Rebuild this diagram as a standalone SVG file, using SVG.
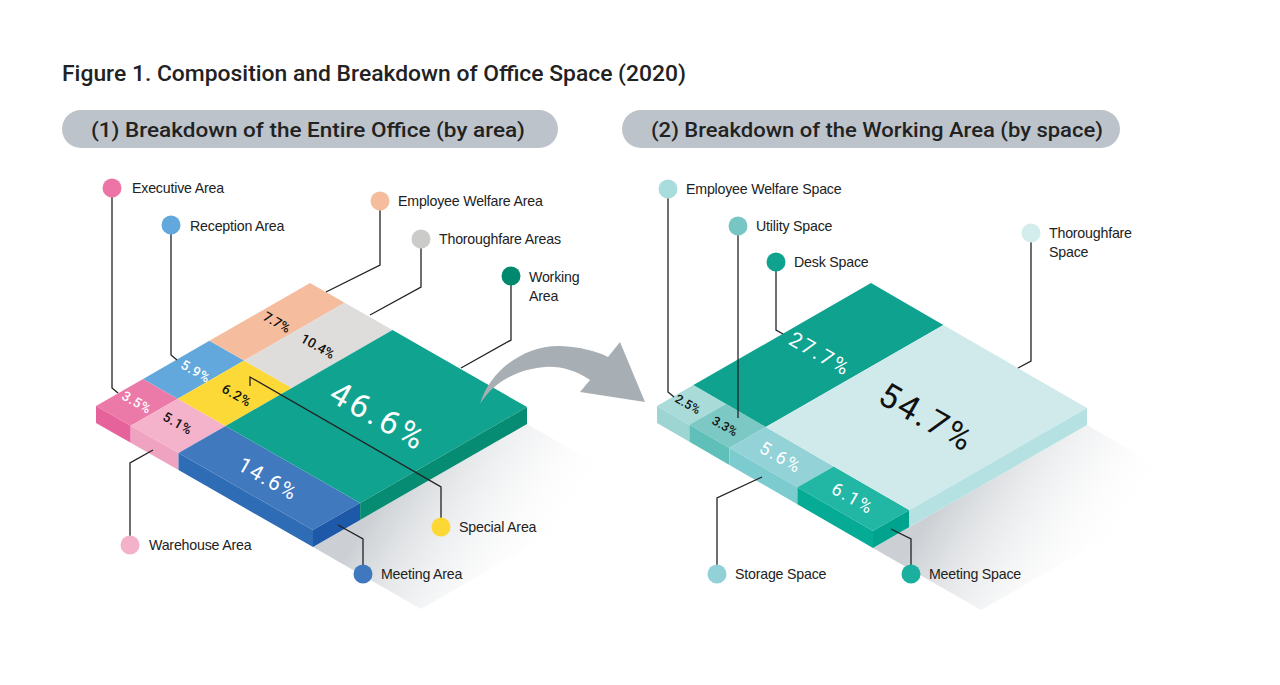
<svg xmlns="http://www.w3.org/2000/svg" width="1280" height="685" viewBox="0 0 1280 685">
<style>
.ttl{font-family:Roboto,"Liberation Sans",sans-serif;font-weight:500;fill:#222}
.lbl{font-family:"Liberation Sans",Arial,sans-serif;font-size:14.2px;fill:#222;letter-spacing:-0.2px}
.pct{font-family:Roboto,"Liberation Sans",sans-serif;text-anchor:middle;dominant-baseline:central}
.sm{font-size:13.5px;font-weight:500;letter-spacing:0.6px}
.ln{fill:none;stroke:#222;stroke-width:1.3}
</style>
<defs>
<linearGradient id="shL" gradientUnits="userSpaceOnUse" x1="400" y1="470" x2="550" y2="565">
<stop offset="0" stop-color="#ccd0d4"/><stop offset="1" stop-color="#ffffff" stop-opacity="0"/>
</linearGradient>
<linearGradient id="shR" gradientUnits="userSpaceOnUse" x1="960" y1="470" x2="1110" y2="565">
<stop offset="0" stop-color="#ccd0d4"/><stop offset="1" stop-color="#ffffff" stop-opacity="0"/>
</linearGradient>
</defs>
<rect width="1280" height="685" fill="#fff"/>
<g id="title">
<text class="ttl" x="62" y="81" font-size="22" textLength="624" lengthAdjust="spacingAndGlyphs">Figure 1. Composition and Breakdown of Office Space (2020)</text>
</g>
<g id="pill1">
<rect x="62" y="110" width="496" height="38" rx="19" fill="#bdc3ca"/>
<text class="ttl" x="91" y="137" font-size="21" textLength="434" lengthAdjust="spacingAndGlyphs">(1) Breakdown of the Entire Office (by area)</text>
</g>
<g id="pill2">
<rect x="622" y="110" width="498" height="38" rx="19" fill="#bdc3ca"/>
<text class="ttl" x="651" y="137" font-size="21" textLength="452" lengthAdjust="spacingAndGlyphs">(2) Breakdown of the Working Area (by space)</text>
</g>

<g id="blockLeft">
<polygon points="313,547 527,424 635,486 421,609" fill="url(#shL)"/>
<g id="executive-area-block">
<polygon points="96,406 143.1,378.9 177.8,398.7 130.7,425.8" fill="#ec7aa9"/>
<polygon points="96,406 130.7,425.8 130.7,442.8 96,423" fill="#e6629b"/>
</g>
<g id="reception-area-block"><polygon points="143.1,378.9 209.4,340.8 244.1,360.6 177.8,398.7" fill="#62a8dc"/></g>
<g id="employee-welfare-area-block"><polygon points="209.4,340.8 310,283 344.7,302.8 244.1,360.6" fill="#f5bd9e"/></g>
<g id="warehouse-area-block">
<polygon points="130.7,425.8 177.8,398.7 225.6,426 178.5,453.1" fill="#f5b2cb"/>
<polygon points="130.7,425.8 178.5,453.1 178.5,470.1 130.7,442.8" fill="#f0a3c1"/>
</g>
<g id="special-area-block"><polygon points="177.8,398.7 244.1,360.6 291.9,388 225.6,426" fill="#fdd937"/></g>
<g id="thoroughfare-areas-block"><polygon points="244.1,360.6 344.7,302.8 392.5,330.1 291.9,388" fill="#dfdddc"/></g>
<g id="meeting-area-block">
<polygon points="178.5,453.1 225.6,426 360.1,502.9 313,530" fill="#4179bf"/>
<polygon points="178.5,453.1 313,530 313,547 178.5,470.1" fill="#2e6db6"/>
<polygon points="313,530 360.1,502.9 360.1,519.9 313,547" fill="#1e58a8"/>
</g>
<g id="working-area-block">
<polygon points="225.6,426 392.5,330.1 527,407 360.1,502.9" fill="#10a38f"/>
<polygon points="360.1,502.9 527,407 527,424 360.1,519.9" fill="#078c74"/>
</g>
<g id="left-percent">
<text class="pct sm" transform="translate(137,402) rotate(29.7)" fill="#fff">3.5%</text>
<text class="pct sm" transform="translate(196,371) rotate(29.7)" fill="#fff">5.9%</text>
<text class="pct sm" transform="translate(277,322) rotate(29.7)" fill="#111" style="letter-spacing:0">7.7%</text>
<text class="pct sm" transform="translate(318,346) rotate(29.7)" fill="#111" style="letter-spacing:0">10.4%</text>
<text class="pct sm" transform="translate(178,423) rotate(29.7)" fill="#111">5.1%</text>
<text class="pct sm" transform="translate(237,395) rotate(29.7)" fill="#111">6.2%</text>
<text class="pct" transform="translate(379,416) rotate(29.7)" font-size="33" fill="#fff" letter-spacing="3.5">46.6%</text>
<text class="pct" transform="translate(268,479) rotate(29.7)" font-size="21" fill="#fff" letter-spacing="1.8">14.6%</text>
</g>
</g>

<g id="arrow">
<path d="M480,404 C490,370 525,345 560,346 C580,347 597,351 608,357 L620,342 L645,402 L580,392 L590,380 C575,370 560,366 545,367 C520,369 495,380 480,404 Z" fill="#a8afb4"/>
</g>

<g id="blockRight">
<polygon points="873,548 1087,425 1195,487 981,610" fill="url(#shR)"/>
<g id="employee-welfare-space-block">
<polygon points="657,406 693.4,385.1 725.8,403.9 689.4,424.8" fill="#a9dbd9"/>
<polygon points="657,406 689.4,424.8 689.4,441.8 657,423" fill="#9dd5d2"/>
</g>
<g id="utility-space-block">
<polygon points="689.4,424.8 725.8,403.9 765.8,427 729.4,447.9" fill="#7bc8c4"/>
<polygon points="689.4,424.8 729.4,447.9 729.4,464.9 689.4,441.8" fill="#5fbfb9"/>
</g>
<g id="desk-space-block"><polygon points="693.4,385.1 871,283 943.4,324.9 765.8,427" fill="#0fa38f"/></g>
<g id="storage-space-block">
<polygon points="729.4,447.9 765.8,427 833.8,466.4 797.4,487.3" fill="#93d2d7"/>
<polygon points="729.4,447.9 797.4,487.3 797.4,504.3 729.4,464.9" fill="#7ccbcf"/>
</g>
<g id="meeting-space-block">
<polygon points="797.4,487.3 833.8,466.4 909.4,510.1 873,531" fill="#22b6a5"/>
<polygon points="797.4,487.3 873,531 873,548 797.4,504.3" fill="#05ab95"/>
<polygon points="873,531 909.4,510.1 909.4,527.1 873,548" fill="#00a48e"/>
</g>
<g id="thoroughfare-space-block">
<polygon points="765.8,427 943.4,324.9 1087,408 909.4,510.1" fill="#d0eaeb"/>
<polygon points="909.4,510.1 1087,408 1087,425 909.4,527.1" fill="#b5e1e2"/>
</g>
<g id="right-percent">
<text class="pct sm" transform="translate(688,404) rotate(29.7)" fill="#111" style="letter-spacing:0;font-size:12.5px">2.5%</text>
<text class="pct sm" transform="translate(725,426) rotate(29.7)" fill="#111" style="letter-spacing:0;font-size:12.5px">3.3%</text>
<text class="pct" transform="translate(820,354) rotate(29.7)" font-size="21" fill="#fff" letter-spacing="2.2">27.7%</text>
<text class="pct" transform="translate(927,417) rotate(29.7)" font-size="34" fill="#111" letter-spacing="2.5">54.7%</text>
<text class="pct" transform="translate(781,457) rotate(29.7)" font-size="18" fill="#fff" letter-spacing="1.8">5.6%</text>
<text class="pct" transform="translate(853,498) rotate(29.7)" font-size="18" fill="#fff" letter-spacing="1.8">6.1%</text>
</g>
</g>

<g id="connectors">
<path class="ln" d="M112,197 V388 L118,393"/>
<path class="ln" d="M171,234 V355 L177,360"/>
<path class="ln" d="M380,210 V265 L326,292"/>
<path class="ln" d="M421,248 V287 L370,315"/>
<path class="ln" d="M511,285 V340 L461,368"/>
<path class="ln" d="M250,386 V377 L441,487 V518"/>
<path class="ln" d="M130,536 V463 L153,450"/>
<path class="ln" d="M338,525 L363,539 V565"/>
<path class="ln" d="M668,198 V392 L674,397"/>
<path class="ln" d="M738,235 V418"/>
<path class="ln" d="M776,271 V330 L783,334"/>
<path class="ln" d="M1031,242 V361 L1018,368"/>
<path class="ln" d="M762,477 L717,498 V565"/>
<path class="ln" d="M891,529 L911,539 V565"/>
</g>

<g id="label-executive"><circle cx="112" cy="188" r="9.5" fill="#ec75a6"/><text class="lbl" x="132" y="193">Executive Area</text></g>
<g id="label-reception"><circle cx="171" cy="225" r="9.5" fill="#62a8dc"/><text class="lbl" x="190" y="231">Reception Area</text></g>
<g id="label-employee-welfare-area"><circle cx="380" cy="201" r="9.5" fill="#f5bd9e"/><text class="lbl" x="398" y="206">Employee Welfare Area</text></g>
<g id="label-thoroughfare-areas"><circle cx="421" cy="239" r="9.5" fill="#cbcbca"/><text class="lbl" x="439" y="244">Thoroughfare Areas</text></g>
<g id="label-working"><circle cx="511" cy="276" r="9.5" fill="#00896e"/><text class="lbl" x="529" y="282">Working</text><text class="lbl" x="529" y="301">Area</text></g>
<g id="label-special"><circle cx="441" cy="527" r="9.5" fill="#fdd835"/><text class="lbl" x="459" y="532">Special Area</text></g>
<g id="label-warehouse"><circle cx="130" cy="545" r="9.5" fill="#f4b2ca"/><text class="lbl" x="149" y="550">Warehouse Area</text></g>
<g id="label-meeting-area"><circle cx="363" cy="574" r="9.5" fill="#3f78bf"/><text class="lbl" x="381" y="579">Meeting Area</text></g>
<g id="label-employee-welfare-space"><circle cx="668" cy="189" r="9.5" fill="#a9dcdc"/><text class="lbl" x="686" y="194">Employee Welfare Space</text></g>
<g id="label-utility"><circle cx="738" cy="226" r="9.5" fill="#77c6c4"/><text class="lbl" x="756" y="231">Utility Space</text></g>
<g id="label-desk"><circle cx="776" cy="262" r="9.5" fill="#0fa38f"/><text class="lbl" x="794" y="267">Desk Space</text></g>
<g id="label-thoroughfare-space"><circle cx="1031" cy="233" r="9.5" fill="#d3ecec"/><text class="lbl" x="1049" y="238">Thoroughfare</text><text class="lbl" x="1049" y="257">Space</text></g>
<g id="label-storage"><circle cx="717" cy="574" r="9.5" fill="#92d1d8"/><text class="lbl" x="735" y="579">Storage Space</text></g>
<g id="label-meeting-space"><circle cx="911" cy="574" r="9.5" fill="#1aaf9e"/><text class="lbl" x="929" y="579">Meeting Space</text></g>
</svg>
